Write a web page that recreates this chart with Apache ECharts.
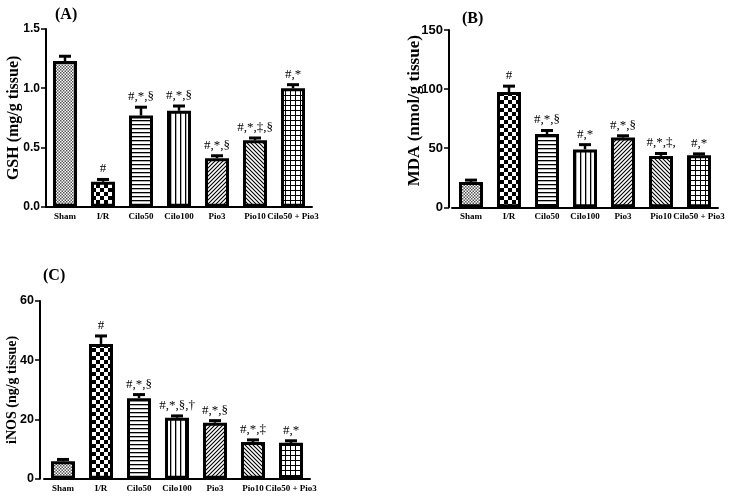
<!DOCTYPE html>
<html><head><meta charset="utf-8">
<script src="https://cdn.jsdelivr.net/npm/echarts@6/dist/echarts.min.js"></script>
<style>html,body{margin:0;padding:0;background:#fff}#c{width:743px;height:496px}</style>
</head><body><div id="c"></div>
<script>
const categories = ['Sham','I/R','Cilo50','Cilo100','Pio3','Pio10','Cilo50 + Pio3'];

const gshMean = [1.23, 0.21, 0.77, 0.81, 0.41, 0.56, 1.00];
const gshErr  = [0.04, 0.02, 0.07, 0.04, 0.02, 0.02, 0.03];
const gshSig  = ['', '#', '#,*,§', '#,*,§', '#,*,§', '#,*,‡,§', '#,*'];

const mdaMean = [21.5, 97.5, 62, 49, 59, 43.5, 44];
const mdaErr  = [1.5, 5, 3, 4, 1.5, 2, 1.2];
const mdaSig  = ['', '#', '#,*,§', '#,*', '#,*,§', '#,*,‡,', '#,*'];

const inosMean = [5.9, 45.5, 27.2, 20.6, 18.9, 12.4, 12.1];
const inosErr  = [0.6, 2.7, 1.2, 0.6, 0.7, 0.7, 0.7];
const inosSig  = ['', '#', '#,*,§', '#,*,§,†', '#,*,§', '#,*,‡', '#,*'];

const gshTicks = [0, 1.5, 0.5];
const mdaTicks = [0, 150, 50];
const inosTicks = [0, 60, 20];

// ---- patterns ----
function tile(w, h, draw) {
  const c = document.createElement('canvas');
  c.width = w; c.height = h;
  const g = c.getContext('2d');
  g.fillStyle = '#fff'; g.fillRect(0, 0, w, h);
  g.fillStyle = '#000'; g.strokeStyle = '#000';
  draw(g, w, h);
  return { image: c, repeat: 'repeat' };
}
const patterns = [
  tile(3, 3, g => { g.fillStyle = '#555'; g.fillRect(0, 0, 1.5, 1.5); g.fillRect(1.5, 1.5, 1.5, 1.5); }),
  tile(8, 8, g => { g.fillRect(0, 0, 4, 4); g.fillRect(4, 4, 4, 4); }),
  tile(4, 4, g => { g.fillRect(0, 0, 4, 1.3); }),
  tile(5, 5, g => { g.fillRect(0, 0, 1.3, 5); }),
  tile(4, 4, g => { g.lineWidth = 1.1; g.beginPath(); g.moveTo(-1, 5); g.lineTo(5, -1); g.moveTo(-1, 1); g.lineTo(1, -1); g.moveTo(3, 5); g.lineTo(5, 3); g.stroke(); }),
  tile(4, 4, g => { g.lineWidth = 1.1; g.beginPath(); g.moveTo(-1, -1); g.lineTo(5, 5); g.moveTo(-1, 3); g.lineTo(1, 5); g.moveTo(3, -1); g.lineTo(5, 1); g.stroke(); }),
  tile(5, 5, g => { g.fillRect(0, 0, 5, 1); g.fillRect(0, 0, 1, 5); })
];

const serif = '"Liberation Serif", "Times New Roman", serif';
const sans = '"Liberation Sans", Arial, sans-serif';

const panels = [
  { mean: gshMean, err: gshErr, sig: gshSig, ticks: gshTicks, name: 'GSH (mg/g tissue)', grid: {left: 46, top: 29, width: 266, height: 177.7}, off: 0, gap: 24, nameSize: 16, namePad: 0, tickSize: 12, fmt: v => v.toFixed(1) },
  { mean: mdaMean, err: mdaErr, sig: mdaSig, ticks: mdaTicks, name: 'MDA (nmol/g tissue)', grid: {left: 452, top: 30, width: 266, height: 177.3}, off: 3, gap: 26, nameSize: 17, namePad: 16, tickSize: 13, fmt: v => String(v) },
  { mean: inosMean, err: inosErr, sig: inosSig, ticks: inosTicks, name: 'iNOS (ng/g tissue)', grid: {left: 44, top: 301, width: 266, height: 177.7}, off: 4, gap: 21, nameSize: 14, namePad: 0, tickSize: 12.5, fmt: v => String(v) }
];

const grids = [], xAxes = [], yAxes = [], series = [];
panels.forEach((p, k) => {
  grids.push(p.grid);
  xAxes.push({
    type: 'category', gridIndex: k, data: categories,
    axisLine: { lineStyle: { color: '#000', width: 2 } },
    axisTick: { alignWithLabel: true, length: 4, lineStyle: { color: '#000', width: 1.5 } },
    axisLabel: { interval: 0, fontFamily: serif, fontWeight: 'bold', fontSize: 9, color: '#000', margin: 5 }
  });
  yAxes.push({
    type: 'value', gridIndex: k, min: p.ticks[0], max: p.ticks[1], interval: p.ticks[2], offset: p.off,
    splitLine: { show: false },
    axisLine: { show: true, lineStyle: { color: '#000', width: 2 } },
    axisTick: { show: true, length: 5, lineStyle: { color: '#000', width: 1.5 } },
    axisLabel: { fontFamily: sans, fontWeight: 'bold', fontSize: p.tickSize, color: '#000', margin: 6, formatter: p.fmt },
    name: p.name, nameLocation: 'middle', nameGap: p.gap, nameMoveOverlap: false,
    nameTextStyle: { fontFamily: serif, fontWeight: 'bold', fontSize: p.nameSize, color: '#000', padding: [0, 0, 0, p.namePad] }
  });
  series.push({
    type: 'bar', xAxisIndex: k, yAxisIndex: k, barWidth: 24,
    data: p.mean.map((v, i) => ({ value: v, itemStyle: { color: patterns[i] } })),
    itemStyle: { borderColor: '#000', borderWidth: 3 },
    animation: false, z: 2
  });
  series.push({
    type: 'custom', xAxisIndex: k, yAxisIndex: k, z: 3, animation: false,
    data: p.mean.map((v, i) => [i, v, v + p.err[i]]),
    renderItem: (params, api) => {
      const i = api.value(0);
      const base = api.coord([i, api.value(1)]);
      const top = api.coord([i, api.value(2)]);
      const s = p.sig[params.dataIndex];
      const children = [
        { type: 'line', shape: { x1: base[0], y1: base[1], x2: top[0], y2: top[1] }, style: { stroke: '#000', lineWidth: 2.5 } },
        { type: 'line', shape: { x1: top[0] - 6, y1: top[1], x2: top[0] + 6, y2: top[1] }, style: { stroke: '#000', lineWidth: 3 } }
      ];
      if (s) children.push({
        type: 'text',
        style: { text: s, x: top[0], y: top[1] - 4, textAlign: 'center', textVerticalAlign: 'bottom', align: 'center', verticalAlign: 'bottom', font: '13px ' + serif, fill: '#000' }
      });
      return { type: 'group', children };
    }
  });
});

const chart = echarts.init(document.getElementById('c'), null, { renderer: 'canvas' });
chart.setOption({
  backgroundColor: '#fff',
  animation: false,
  title: [
    { text: '(A)', left: 50, top: 2, textStyle: { fontFamily: serif, fontWeight: 'bold', fontSize: 16, color: '#000' } },
    { text: '(B)', left: 457, top: 6, textStyle: { fontFamily: serif, fontWeight: 'bold', fontSize: 16, color: '#000' } },
    { text: '(C)', left: 38, top: 263, textStyle: { fontFamily: serif, fontWeight: 'bold', fontSize: 16, color: '#000' } }
  ],
  grid: grids, xAxis: xAxes, yAxis: yAxes, series
});
</script></body></html>
